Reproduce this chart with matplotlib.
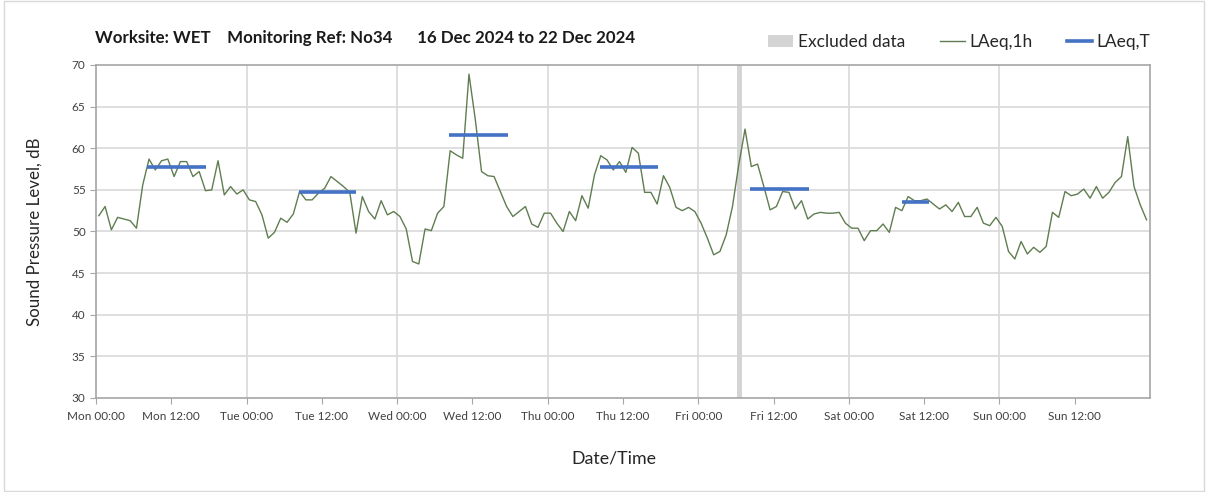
import numpy as np
import matplotlib
matplotlib.use("Agg")
import matplotlib.pyplot as plt
from matplotlib.patches import Patch
from matplotlib.lines import Line2D

plt.rcParams['font.family'] = ['Lato', 'DejaVu Sans']

# hourly LAeq,1h values, Mon 00:00 .. Sun 23:00
laeq_1h = [
    51.9, 53.0, 50.2, 51.7, 51.5, 51.3, 50.4, 55.6, 58.7, 57.4, 58.5, 58.7,
    56.6, 58.4, 58.4, 56.6, 57.2, 54.9, 55.0, 58.5, 54.4, 55.4, 54.5, 55.0,
    53.8, 53.6, 52.0, 49.2, 49.9, 51.6, 51.1, 52.1, 54.8, 53.8, 53.8, 54.6,
    55.2, 56.6, 56.0, 55.4, 54.7, 49.8, 54.2, 52.4, 51.5, 53.7, 52.0, 52.4,
    51.8, 50.3, 46.4, 46.1, 50.3, 50.1, 52.2, 53.0, 59.7, 59.2, 58.8, 68.9,
    63.5, 57.2, 56.7, 56.6, 54.8, 53.0, 51.8, 52.4, 53.0, 50.9, 50.5, 52.2,
    52.2, 51.0, 50.0, 52.4, 51.3, 54.3, 52.8, 56.8, 59.1, 58.6, 57.4, 58.4,
    57.1, 60.1, 59.4, 54.7, 54.7, 53.3, 56.7, 55.3, 52.9, 52.5, 52.9, 52.4,
    51.0, 49.2, 47.2, 47.6, 49.6, 53.0, 58.0, 62.3, 57.8, 58.1, 55.4, 52.6,
    53.0, 54.8, 54.7, 52.7, 53.7, 51.5, 52.1, 52.3, 52.2, 52.2, 52.3, 51.0,
    50.4, 50.4, 48.9, 50.1, 50.1, 50.9, 49.9, 52.9, 52.5, 54.2, 53.7, 53.7,
    53.9, 53.3, 52.7, 53.2, 52.4, 53.5, 51.8, 51.8, 52.9, 51.0, 50.7, 51.7,
    50.6, 47.6, 46.7, 48.8, 47.3, 48.1, 47.5, 48.2, 52.3, 51.7, 54.8, 54.3,
    54.5, 55.1, 54.0, 55.4, 54.0, 54.7, 55.9, 56.6, 61.4, 55.4, 53.2, 51.4,
]

# LAeq,T daytime periods (hours from Mon 00:00)
laeq_t_start = [8.2, 32.4, 56.3, 80.3, 104.3, 128.4]
laeq_t_end = [17.6, 41.5, 65.7, 89.6, 113.7, 132.7]
laeq_t_value = [57.7, 54.7, 61.6, 57.8, 55.1, 53.6]

# excluded data period (hours)
excluded_start = 102.1
excluded_end = 102.95

tick_labels = ['Mon 00:00', 'Mon 12:00', 'Tue 00:00', 'Tue 12:00', 'Wed 00:00',
               'Wed 12:00', 'Thu 00:00', 'Thu 12:00', 'Fri 00:00', 'Fri 12:00',
               'Sat 00:00', 'Sat 12:00', 'Sun 00:00', 'Sun 12:00']

title_text = "Worksite: WET    Monitoring Ref: No34      16 Dec 2024 to 22 Dec 2024"

fig = plt.figure(figsize=(12.08, 4.92), dpi=100)
ax = fig.add_axes([96/1208, 1 - 398/492, (1150-96)/1208, (398-65)/492])

hours = np.arange(len(laeq_1h)) + 0.45

ax.axvspan(excluded_start, excluded_end, color='#d4d4d4', lw=0, zorder=1)
ax.plot(hours, laeq_1h, color='#5f7d50', lw=1.0, zorder=3)
for s, e, v in zip(laeq_t_start, laeq_t_end, laeq_t_value):
    ax.plot([s, e], [v, v], color='#4472c4', lw=2.6, solid_capstyle='butt', zorder=4)

ax.set_xlim(0, 168)
ax.set_ylim(30, 70)
ax.set_yticks(np.arange(30, 71, 5))
ax.set_xticks(np.arange(0, 168, 12))
ax.set_xticklabels(tick_labels, fontsize=8.5, color='#404040')
ax.tick_params(axis='y', labelsize=8.5, labelcolor='#404040', length=4, color='#a6a6a6')
ax.tick_params(axis='x', length=4, color='#a6a6a6', pad=5)

for y in np.arange(35, 70, 5):
    ax.axhline(y, color='#d9d9d9', lw=1.2, zorder=0)
for x in np.arange(24, 168, 24):
    ax.axvline(x, color='#d9d9d9', lw=1.2, zorder=0)

for sp in ax.spines.values():
    sp.set_color('#a6a6a6')
    sp.set_linewidth(1.2)

ax.set_ylabel('Sound Pressure Level, dB', fontsize=12.2, color='#262626')
ax.yaxis.set_label_coords((35 - 96) / (1150 - 96), 0.5)
ax.set_xlabel('Date/Time', fontsize=12.8, color='#262626')
ax.xaxis.set_label_coords((614 - 96) / (1150 - 96), -(458 - 398) / (398 - 65))
ax.xaxis.label.set_va('center')
ax.yaxis.label.set_va('center')

fig.text(95/1208, 1 - 38/492, title_text, fontsize=12.2, fontweight='bold',
         color='#1a1a1a', va='center', ha='left')

handles = [Patch(facecolor='#d4d4d4', edgecolor='none'),
           Line2D([], [], color='#5f7d50', lw=1.0),
           Line2D([], [], color='#4472c4', lw=2.6)]
leg = fig.legend(handles, ['Excluded data', 'LAeq,1h', 'LAeq,T'], ncol=3,
                 loc='center right', bbox_to_anchor=(1166/1208, 1 - 42/492),
                 frameon=False, fontsize=12.5, handlelength=1.45, handletextpad=0.25,
                 columnspacing=2.0)
for t in leg.get_texts():
    t.set_color('#262626')

# outer border
fig.patches.append(plt.Rectangle((4/1208, 0.002), 1 - 8/1208, 0.996, transform=fig.transFigure,
                                 fill=False, edgecolor='#d9d9d9', lw=1.0))

fig.savefig('out.png', dpi=100)
